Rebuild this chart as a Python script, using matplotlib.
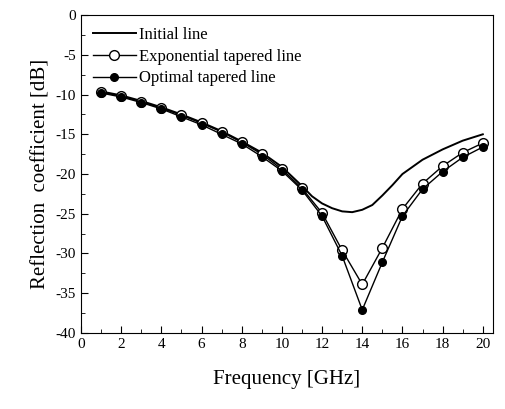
import numpy as np
import matplotlib.pyplot as plt
from matplotlib.ticker import MultipleLocator

plt.rcParams['font.family'] = ['Liberation Serif', 'DejaVu Serif']
plt.rcParams['axes.unicode_minus'] = False

# initial (untapered) line
freq_init = [1, 2, 3, 4, 5, 6, 7, 8, 9, 10, 11, 11.5, 12, 12.5, 13, 13.5,
             14, 14.5, 15, 15.5, 16, 17, 18, 19, 20]
s11_init = [-9.6, -10.1, -10.8, -11.6, -12.5, -13.5, -14.6, -15.9, -17.3, -19.1,
            -21.5, -22.8, -23.7, -24.3, -24.7, -24.8, -24.5, -23.9, -22.7, -21.4,
            -20.0, -18.2, -16.9, -15.8, -15.0]

freq = list(range(1, 21))
s11_exp = [-9.7, -10.2, -10.9, -11.7, -12.6, -13.6, -14.7, -16.0, -17.5, -19.4,
           -21.8, -24.9, -29.6, -33.9, -29.3, -24.4, -21.2, -19.0, -17.3, -16.1]
s11_opt = [-9.8, -10.3, -11.0, -11.8, -12.8, -13.8, -15.0, -16.2, -17.8, -19.6,
           -22.0, -25.3, -30.3, -37.1, -31.1, -25.3, -21.9, -19.7, -17.9, -16.6]

fig = plt.figure(figsize=(5.06, 4.09), dpi=100)
ax = fig.add_axes([0.160, 0.186, 0.814, 0.777])

ax.plot(freq_init, s11_init, color='black', lw=1.4, label='Initial line')
ax.plot(freq, s11_exp, color='black', lw=1.0, marker='o', ms=7,
        mfc='white', mec='black', mew=1.0, label='Exponential tapered line')
ax.plot(freq, s11_opt, color='black', lw=1.0, marker='o', ms=5.5,
        mfc='black', mec='black', label='Optimal tapered line')

ax.set_xlim(0, 20.5)
ax.set_ylim(-40, 0)
ax.xaxis.set_major_locator(MultipleLocator(2))
ax.xaxis.set_minor_locator(MultipleLocator(1))
ax.yaxis.set_major_locator(MultipleLocator(5))
ax.yaxis.set_minor_locator(MultipleLocator(2.5))
ax.tick_params(which='both', direction='in', top=False, right=False, labelsize=11)
ax.tick_params(which='major', length=5)
ax.tick_params(which='minor', length=3)

ax.set_xlabel('Frequency [GHz]', fontsize=15, labelpad=14)
ax.set_ylabel('Reflection  coefficient [dB]', fontsize=15, labelpad=4)

ax.legend(loc='upper left', frameon=False, fontsize=12, handlelength=2.6,
          handletextpad=0.2, borderaxespad=0.3, labelspacing=0.35)

fig.savefig('out.png', dpi=100)
